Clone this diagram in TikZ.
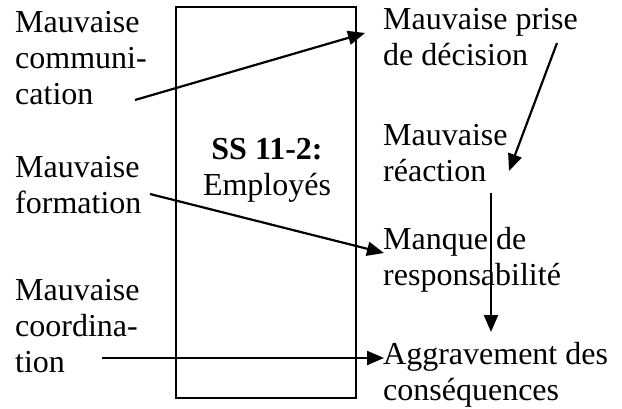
\documentclass[tikz,border=0pt]{standalone}
\usepackage{fontspec}
\setmainfont{Liberation Serif}
\usetikzlibrary{arrows.meta}
\begin{document}
\begin{tikzpicture}[x=1pt,y=-1pt,
  lbl/.style={anchor=base west,inner sep=0pt,align=left,
    font=\fontsize{32}{36}\selectfont},
  ctr/.style={anchor=base,inner sep=0pt,align=center,
    font=\fontsize{32}{36}\selectfont},
  link/.style={line width=2.2pt,-{Triangle[length=17pt,width=14pt]}}]
  \useasboundingbox (0,0) rectangle (622,409);
  % central subsystem box
  \draw[line width=1.6pt] (176,7) rectangle (356,398);
  % nodes are placed at the baseline of their last line
  \node[ctr] (ss) at (267,196) {\textbf{SS 11-2:}\\Employés};
  % causes on the left
  \node[lbl] (comm) at (15,105) {Mauvaise\\communi-\\cation};
  \node[lbl] (form) at (15,214) {Mauvaise\\formation};
  \node[lbl] (coord) at (15,372) {Mauvaise\\coordina-\\tion};
  % effects on the right
  \node[lbl] (dec) at (383,66) {Mauvaise prise\\de décision};
  \node[lbl] (reac) at (383,182) {Mauvaise\\réaction};
  \node[lbl] (resp) at (383,286) {Manque de\\responsabilité};
  \node[lbl] (aggr) at (383,400) {Aggravement des\\conséquences};
  % arrow end points
  \coordinate (c1s) at (135,100);  \coordinate (c1e) at (365,33);
  \coordinate (c2s) at (557,43);   \coordinate (c2e) at (509,171);
  \coordinate (c3s) at (150,194);  \coordinate (c3e) at (384,253);
  \coordinate (c4s) at (491,193);  \coordinate (c4e) at (491,332);
  \coordinate (c5s) at (102,358);  \coordinate (c5e) at (384,358);
  \draw[link] (c1s) -- (c1e);
  \draw[link] (c2s) -- (c2e);
  \draw[link] (c3s) -- (c3e);
  \draw[link] (c4s) -- (c4e);
  \draw[link] (c5s) -- (c5e);
\end{tikzpicture}
\end{document}
